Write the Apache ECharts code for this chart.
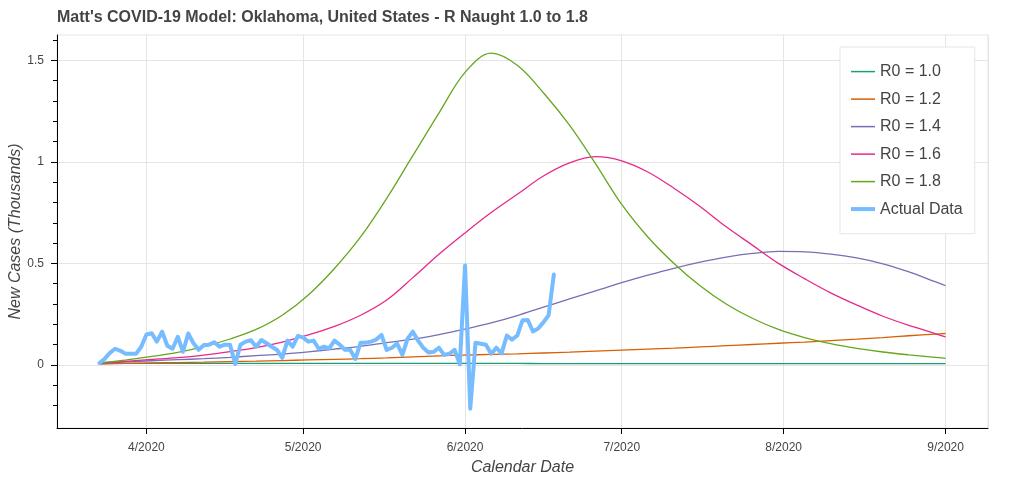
<!DOCTYPE html>
<html>
<head>
<meta charset="utf-8">
<script src="https://cdn.jsdelivr.net/npm/echarts@6/dist/echarts.min.js"></script>
<style>
html,body{margin:0;padding:0;background:#fff;}
#chart{width:1024px;height:482px;}
</style>
</head>
<body>
<div id="chart"></div>
<script>
// ---- Data ----
var titleText = "Matt's COVID-19 Model: Oklahoma, United States - R Naught 1.0 to 1.8";
var seriesNames = ['R0 = 1.0', 'R0 = 1.2', 'R0 = 1.4', 'R0 = 1.6', 'R0 = 1.8', 'Actual Data'];
var seriesColors = ['#1b9e77', '#d95f02', '#7570b3', '#e7298a', '#66a61e', '#77bcff'];

// model curves: days after 2020-03-23
var modelStart = '2020-03-23';
var modelDays = [0,5,10,15,20,25,30,35,40,45,50,55,60,65,70,75,80,85,90,95,100,
  105,110,115,120,125,130,135,140,145,150,155,160,162];
var r10 = [0.008,0.008,0.008,0.008,0.008,0.008,0.008,0.008,0.008,0.008,0.008,0.008,0.008,0.008,0.008,0.008,0.008,
  0.007,0.007,0.007,0.007,0.007,0.007,0.007,0.007,0.007,0.007,0.007,0.007,0.007,0.007,0.007,0.007,0.007];
var r12 = [0.005,0.008,0.010,0.012,0.014,0.017,0.019,0.022,0.025,0.028,0.031,0.035,0.040,0.045,0.049,0.052,0.055,
  0.059,0.063,0.068,0.073,0.078,0.083,0.089,0.095,0.101,0.107,0.113,0.120,0.127,0.135,0.144,0.152,0.155];
var r14 = [0.008,0.015,0.021,0.026,0.031,0.038,0.046,0.054,0.065,0.078,0.092,0.110,0.127,0.150,0.177,0.207,0.243,
  0.285,0.325,0.365,0.405,0.442,0.476,0.506,0.531,0.549,0.559,0.557,0.546,0.527,0.498,0.458,0.410,0.390];
var r16 = [0.010,0.018,0.027,0.036,0.049,0.066,0.086,0.113,0.148,0.190,0.245,0.320,0.430,0.545,0.650,0.750,0.840,
  0.930,0.995,1.025,1.005,0.950,0.870,0.780,0.680,0.590,0.500,0.425,0.355,0.295,0.240,0.195,0.155,0.138];
var r18 = [0.010,0.024,0.042,0.062,0.090,0.128,0.175,0.245,0.345,0.475,0.630,0.820,1.030,1.240,1.440,1.535,1.475,
  1.340,1.180,0.990,0.790,0.630,0.500,0.390,0.300,0.230,0.175,0.135,0.105,0.082,0.064,0.050,0.038,0.033];

var actualStart = '2020-03-23';
var actualValues = [
  0.010,0.030,0.060,0.080,0.070,0.055,0.055,0.055,0.090,          // Mar 23-31
  0.150,0.156,0.115,0.164,0.095,0.080,0.139,0.065,0.155,0.107,    // Apr 1-10
  0.075,0.098,0.100,0.112,0.090,0.100,0.100,0.005,0.100,0.115,    // Apr 11-20
  0.122,0.090,0.123,0.107,0.090,0.074,0.035,0.120,0.090,0.143,    // Apr 21-30
  0.135,0.115,0.120,0.080,0.090,0.082,0.120,0.100,0.075,0.075,    // May 1-10
  0.030,0.110,0.110,0.115,0.125,0.148,0.074,0.085,0.105,0.050,    // May 11-20
  0.130,0.164,0.120,0.085,0.062,0.065,0.085,0.050,0.055,0.075,0.003, // May 21-31
  0.490,-0.215,0.110,0.105,0.100,0.055,0.085,0.057,0.145,0.125,   // Jun 1-10
  0.145,0.220,0.222,0.165,0.180,0.210,0.245,0.445                 // Jun 11-18
];

var yMajorTicks = [0, 0.5, 1, 1.5];
var xMin = new Date(2020, 2, 14, 21).getTime();
var xMax = new Date(2020, 8, 9, 3).getTime();
var yMin = -0.31, yMax = 1.624;

// ---- Build ----
var DAY = 86400000;
function parseDate(s) { var p = s.split('-'); return new Date(+p[0], +p[1]-1, +p[2]).getTime(); }
var modelArrays = [r10, r12, r14, r16, r18];
function modelPairs(vals) {
  var t0 = parseDate(modelStart);
  return vals.map(function (v, i) { return [t0 + modelDays[i] * DAY, v]; });
}
var actualPairs = actualValues.map(function (v, i) {
  return [parseDate(actualStart) + i * DAY, v];
});

var font = 'Liberation Sans, Arial, Helvetica, sans-serif';
var chart = echarts.init(document.getElementById('chart'), null, {renderer: 'canvas'});

var series = modelArrays.map(function (arr, i) {
  return {
    name: seriesNames[i], type: 'line', xAxisIndex: 0, yAxisIndex: 0,
    data: modelPairs(arr), smooth: 0.35,
    showSymbol: false, symbol: 'none',
    lineStyle: {color: seriesColors[i], width: 1.3},
    itemStyle: {color: seriesColors[i]}, z: 2
  };
});
series.push({
  name: seriesNames[5], type: 'line', xAxisIndex: 0, yAxisIndex: 0,
  data: actualPairs, showSymbol: false, symbol: 'none',
  lineStyle: {color: seriesColors[5], width: 4, join: 'round', cap: 'round'},
  itemStyle: {color: seriesColors[5]}, z: 3
});

var legendData = seriesNames.map(function (n, i) {
  var h = (i === 5) ? 4 : 1.5;
  return {name: n, icon: 'path://M0,0L24,0L24,' + h + 'L0,' + h + 'Z', itemStyle: {color: seriesColors[i]}};
});

var option = {
  animation: false,
  backgroundColor: '#ffffff',
  title: {
    text: titleText, left: 57, top: 10, padding: 0,
    textStyle: {fontFamily: font, fontSize: 16, fontWeight: 'bold', color: '#444444'}
  },
  legend: {
    orient: 'vertical', left: 840, top: 47,
    padding: [16.6, 12, 16.6, 11], itemGap: 11.5, itemWidth: 24, itemHeight: 14,
    symbolKeepAspect: true,
    backgroundColor: 'rgba(255,255,255,0.95)', borderColor: '#e5e5e5', borderWidth: 1,
    textStyle: {fontFamily: font, fontSize: 16, color: '#444444'},
    data: legendData
  },
  grid: [
    {left: 57, right: 36, top: 35, bottom: 54, show: true, borderColor: '#e5e5e5', borderWidth: 1, backgroundColor: 'transparent'},
    {left: 57, right: 36, top: 60.2, bottom: 117},
    {left: 57, right: 36, top: 39.9, bottom: 76.4}
  ],
  xAxis: [
    {
      type: 'time', gridIndex: 0, min: xMin, max: xMax,
      minInterval: 28 * DAY, maxInterval: 31 * DAY,
      name: 'Calendar Date', nameLocation: 'middle', nameGap: 32,
      nameTextStyle: {fontFamily: font, fontSize: 16, fontStyle: 'italic', color: '#444444'},
      axisLine: {show: true, onZero: false, lineStyle: {color: '#000000', width: 1}},
      axisTick: {show: true, length: 6, lineStyle: {color: '#000000'}},
      axisLabel: {
        fontFamily: font, fontSize: 12, color: '#444444', margin: 14,
        formatter: function (val) { var d = new Date(val); return (d.getMonth() + 1) + '/' + d.getFullYear(); }
      },
      splitLine: {show: true, lineStyle: {color: '#e5e5e5', width: 1}},
      minorTick: {show: false}
    },
    {type: 'value', gridIndex: 1, show: false, min: 0, max: 1},
    {type: 'value', gridIndex: 2, show: false, min: 0, max: 1}
  ],
  yAxis: [
    {
      type: 'value', gridIndex: 0, min: yMin, max: yMax,
      name: 'New Cases (Thousands)', nameLocation: 'middle', nameGap: 33,
      nameTextStyle: {fontFamily: font, fontSize: 16, fontStyle: 'italic', color: '#444444'},
      axisLine: {show: true, onZero: false, lineStyle: {color: '#000000', width: 1}},
      axisTick: {show: false}, axisLabel: {show: false}, splitLine: {show: false}
    },
    {
      type: 'value', gridIndex: 1, min: yMajorTicks[0], max: yMajorTicks[yMajorTicks.length - 1], interval: 0.5,
      axisLine: {show: false},
      axisTick: {show: true, length: 6, lineStyle: {color: '#000000'}},
      axisLabel: {fontFamily: font, fontSize: 12, color: '#444444', margin: 13},
      splitLine: {show: true, lineStyle: {color: '#e5e5e5', width: 1}}
    },
    {
      type: 'value', gridIndex: 2, min: -0.2, max: 1.6, interval: 0.1,
      axisLine: {show: false},
      axisTick: {show: true, length: 4, lineStyle: {color: '#000000'}},
      axisLabel: {show: false}, splitLine: {show: false}
    }
  ],
  series: series
};
chart.setOption(option);
</script>
</body>
</html>
